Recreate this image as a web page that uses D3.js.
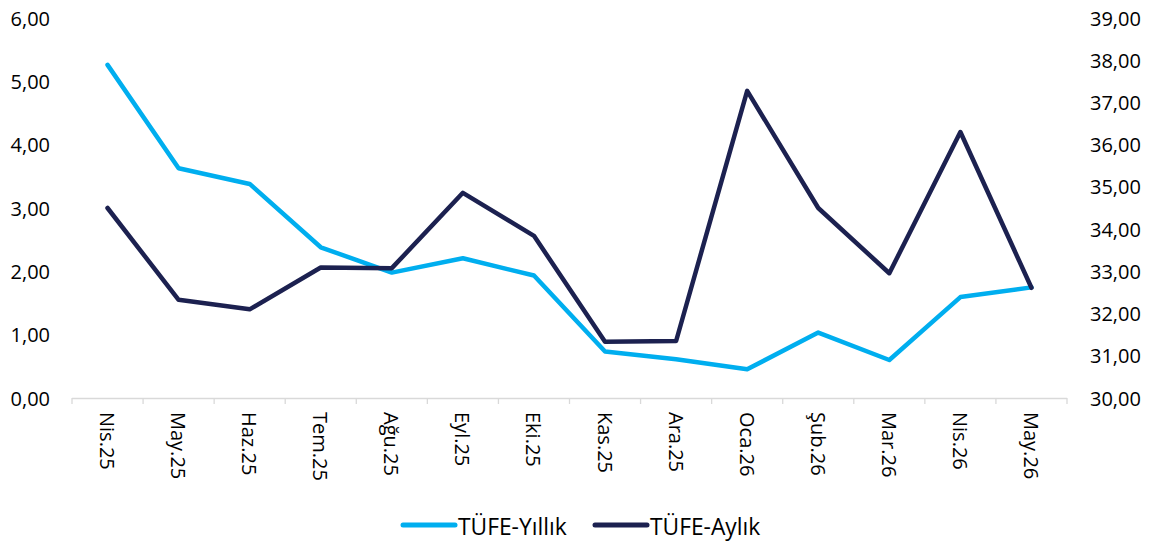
<!doctype html>
<html lang="tr">
<head>
<meta charset="utf-8">
<title>TÜFE</title>
<style>
  body { margin: 0; background: #fff; }
  svg { display: block; font-family: "Open Sans", "Noto Sans", sans-serif; }
  .tick-label { font-size: 20px; fill: #000; }
  .legend text { font-size: 22.8px; fill: #000; }
</style>
</head>
<body>
<svg id="chart" width="1152" height="547"></svg>
<script src="https://d3js.org/d3.v7.min.js"></script>
<script>
// categories (months)
const months = ["Nis.25", "May.25", "Haz.25", "Tem.25", "Ağu.25", "Eyl.25", "Eki.25",
  "Kas.25", "Ara.25", "Oca.26", "Şub.26", "Mar.26", "Nis.26", "May.26"];

// TÜFE-Yıllık (right axis, %)
const yillik = [37.89, 35.44, 35.07, 33.57, 32.97, 33.31, 32.90,
  31.10, 30.92, 30.68, 31.55, 30.90, 32.39, 32.62];

// TÜFE-Aylık (left axis, %)
const aylik = [3.00, 1.55, 1.40, 2.06, 2.05, 3.24, 2.56,
  0.89, 0.90, 4.85, 3.00, 1.97, 4.20, 1.74];

const leftTicks = [0, 1, 2, 3, 4, 5, 6];
const rightTicks = [30, 31, 32, 33, 34, 35, 36, 37, 38, 39];

const C_YILLIK = "#00aeef";
const C_AYLIK = "#1c2150";

const svg = d3.select("#chart");
const fmt = v => d3.format(".2f")(v).replace(".", ",");

const x = d3.scaleBand().domain(months).range([72, 1067]);
const yL = d3.scaleLinear().domain([0, 6]).range([398, 18]);
const yR = d3.scaleLinear().domain([30, 39]).range([398, 18]);
const cx = m => x(m) + x.bandwidth() / 2;

// left axis labels
svg.append("g").selectAll("text")
  .data(leftTicks).enter().append("text")
  .attr("class", "tick-label")
  .attr("x", 50).attr("y", d => yL(d))
  .attr("text-anchor", "end").attr("dominant-baseline", "central")
  .text(fmt);

// right axis labels
svg.append("g").selectAll("text")
  .data(rightTicks).enter().append("text")
  .attr("class", "tick-label")
  .attr("x", 1090).attr("y", d => yR(d))
  .attr("text-anchor", "start").attr("dominant-baseline", "central")
  .text(fmt);

// x axis line + boundary ticks
const xAxis = svg.append("g").attr("stroke", "#d9d9d9").attr("stroke-width", 1.3);
xAxis.append("line").attr("x1", 72).attr("x2", 1067).attr("y1", 398.5).attr("y2", 398.5);
xAxis.selectAll("line.tk")
  .data(months.concat([null])).enter().append("line")
  .attr("class", "tk")
  .attr("x1", (d, i) => i < months.length ? x(d) : x.range()[1])
  .attr("x2", (d, i) => i < months.length ? x(d) : x.range()[1])
  .attr("y1", 398).attr("y2", 404);

// x labels, rotated
svg.append("g").selectAll("text")
  .data(months).enter().append("text")
  .attr("class", "tick-label")
  .attr("transform", d => `translate(${cx(d)},412) rotate(90)`)
  .attr("dominant-baseline", "central")
  .text(d => d);

// lines
const lineL = d3.line().x((d, i) => cx(months[i])).y(d => yL(d));
const lineR = d3.line().x((d, i) => cx(months[i])).y(d => yR(d));

svg.append("path").datum(yillik)
  .attr("d", lineR).attr("fill", "none")
  .attr("stroke", C_YILLIK).attr("stroke-width", 4.5)
  .attr("stroke-linejoin", "round").attr("stroke-linecap", "round");

svg.append("path").datum(aylik)
  .attr("d", lineL).attr("fill", "none")
  .attr("stroke", C_AYLIK).attr("stroke-width", 4.5)
  .attr("stroke-linejoin", "round").attr("stroke-linecap", "round");

// legend
const legend = svg.append("g").attr("class", "legend");
const items = [
  { name: "TÜFE-Yıllık", color: C_YILLIK, x: 403 },
  { name: "TÜFE-Aylık", color: C_AYLIK, x: 595 }
];
items.forEach(it => {
  legend.append("line")
    .attr("x1", it.x).attr("x2", it.x + 52)
    .attr("y1", 525).attr("y2", 525)
    .attr("stroke", it.color).attr("stroke-width", 5)
    .attr("stroke-linecap", "round");
  legend.append("text")
    .attr("x", it.x + 55).attr("y", 526)
    .attr("dominant-baseline", "central")
    .text(it.name);
});
</script>
</body>
</html>
